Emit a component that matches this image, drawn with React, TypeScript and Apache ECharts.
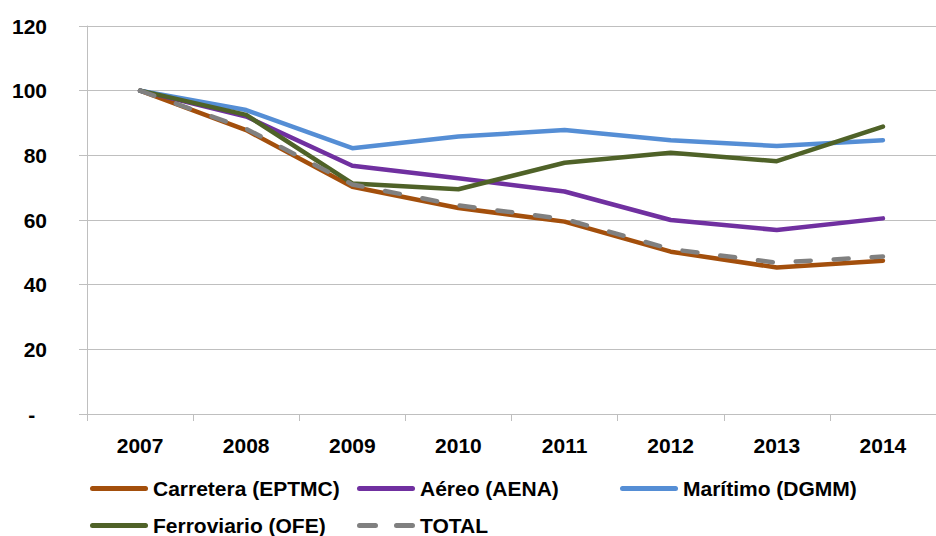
import React, { useEffect, useRef } from "react";
import * as echarts from "echarts";

const years = ["2007", "2008", "2009", "2010", "2011", "2012", "2013", "2014"];
const carretera = [100, 87.8, 70.3, 63.7, 59.5, 50.2, 45.3, 47.4];
const aereo = [100, 92, 76.8, 72.9, 68.8, 60, 56.9, 60.5];
const maritimo = [100, 94, 82.2, 85.8, 87.8, 84.7, 82.9, 84.7];
const ferroviario = [100, 92.5, 71.3, 69.5, 77.7, 80.8, 78.2, 88.9];
const total = [100, 88.2, 71, 64.5, 60.3, 51, 46.8, 48.7];

const seriesNames = ["Carretera (EPTMC)", "Aéreo (AENA)", "Marítimo (DGMM)", "Ferroviario (OFE)", "TOTAL"];
const seriesData = [carretera, aereo, maritimo, ferroviario, total];
const colors = ["#A34F0C", "#7030A0", "#558ED5", "#4F6228", "#808080"];

const FONT = "'Liberation Sans', Arial, sans-serif";
const GRAY = "#BFBFBF";

const SOLID_ICON =
  "path://M2.5,0 L55.5,0 A2.5,2.5 0 0 1 55.5,5 L2.5,5 A2.5,2.5 0 0 1 2.5,0 Z";
const DASH_ICON =
  "path://M2.5,0 L18.5,0 A2.5,2.5 0 0 1 18.5,5 L2.5,5 A2.5,2.5 0 0 1 2.5,0 Z M39.5,0 L55.5,0 A2.5,2.5 0 0 1 55.5,5 L39.5,5 A2.5,2.5 0 0 1 39.5,0 Z";

export default function App() {
  const ref = useRef<HTMLDivElement>(null);
  useEffect(() => {
    if (!ref.current) return;
    const chart = echarts.init(ref.current, undefined, { renderer: "svg" });
    const legendPos = [
      { left: 90, top: 478 },
      { left: 357, top: 478 },
      { left: 620, top: 478 },
      { left: 90, top: 515 },
      { left: 357, top: 515 },
    ];
    chart.setOption({
      animation: false,
      backgroundColor: "#ffffff",
      grid: { left: 87, top: 26, width: 864, height: 388 },
      legend: seriesNames.map((n, i) => ({
        data: [{ name: n, icon: n === "TOTAL" ? DASH_ICON : SOLID_ICON }],
        left: legendPos[i].left,
        top: legendPos[i].top,
        padding: 0,
        itemWidth: 58,
        itemHeight: 5,
        textStyle: { fontFamily: FONT, fontSize: 21, fontWeight: "bold", color: "#000" },
      })),
      xAxis: {
        type: "category",
        data: years,
        boundaryGap: true,
        axisLine: { show: true, lineStyle: { color: GRAY, width: 1 } },
        axisTick: { show: true, length: 7, lineStyle: { color: GRAY } },
        axisLabel: { margin: 21, fontFamily: FONT, fontSize: 21, fontWeight: "bold", color: "#000" },
        splitLine: { show: false },
      },
      yAxis: {
        type: "value",
        min: 0,
        max: 120,
        interval: 20,
        axisLine: { show: true, lineStyle: { color: GRAY, width: 1 } },
        axisTick: { show: true, length: 8, lineStyle: { color: GRAY } },
        axisLabel: {
          margin: 40,
          fontFamily: FONT,
          fontSize: 21,
          fontWeight: "bold",
          color: "#000",
          formatter: (v: number) => (v === 0 ? "-  " : String(v)),
        },
        splitLine: { show: true, lineStyle: { color: GRAY, width: 1 } },
      },
      series: seriesNames.map((n, i) => ({
        name: n,
        type: "line",
        data: seriesData[i],
        symbol: "none",
        color: colors[i],
        itemStyle: { color: colors[i] },
        lineStyle: {
          color: colors[i],
          width: 4.5,
          cap: "round",
          join: "round",
          type: n === "TOTAL" ? [15, 23] : "solid",
        },
        z: 2 + i,
      })),
    });
    return () => chart.dispose();
  }, []);
  return (
    <div
      ref={ref}
      style={{ position: "fixed", left: 0, top: 0, width: 936, height: 536, overflow: "hidden" }}
    />
  );
}
